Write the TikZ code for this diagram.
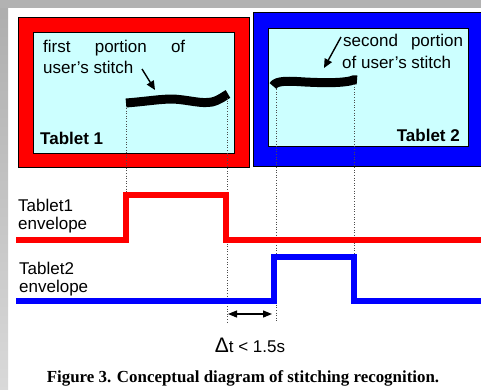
\documentclass[tikz,border=0pt]{standalone}
\usepackage{fontspec}
\setmainfont{Liberation Sans}
\newfontfamily\capfont{Liberation Serif}
\usetikzlibrary{arrows.meta}
\definecolor{pale}{HTML}{CCFFFF}
\definecolor{sred}{HTML}{FF0000}
\definecolor{sblue}{HTML}{0000FF}
\tikzset{
  lbl/.style={inner sep=0pt, anchor=west, font=\fontsize{17}{19}\selectfont},
  blbl/.style={inner sep=0pt, font=\fontsize{17}{19}\selectfont\bfseries},
  frame/.style={draw=black, line width=0.8pt},
  guide/.style={draw=black!70, dotted, line width=0.6pt},
  ink/.style={line width=9pt, line cap=butt, line join=round},
  pointer/.style={-{Triangle[length=9pt,width=8pt]}, line width=1.4pt},
  redsig/.style={draw=sred, line width=6pt, line join=miter},
  bluesig/.style={draw=sblue, line width=6pt, line join=miter},
  dimarrow/.style={{Triangle[length=9pt,width=7pt]}-{Triangle[length=9pt,width=7pt]}, line width=1.2pt}
}
\begin{document}
\begin{tikzpicture}[x=1pt,y=-1pt]
\useasboundingbox (0,0) rectangle (481,389);
\fill[white] (0,0) rectangle (481,389);
% gray margins
\shade[top color=black!32, bottom color=black!15] (0,0) rectangle (8,389);
\fill[black!30] (0,0) rectangle (481,8);
% tablet 1
\fill[sred, frame] (18,17) rectangle (249,167);
\fill[pale, frame] (33,32) rectangle (234,153);
% tablet 2
\fill[sblue, frame] (253,12) rectangle (482,166);
\fill[pale, frame] (268,28) rectangle (468,146);
% texts in tablets
\node[lbl, text width=142pt] (t1a) at (43,48) {first\hfill portion\hfill of};
\node[lbl] (t1b) at (43,67) {user's stitch};
\node[blbl, anchor=west] (tab1) at (40,138) {Tablet 1};
\node[lbl] (t2a) at (343,42) {second\hspace{13pt}portion};
\node[lbl] (t2b) at (342,62) {of user's stitch};
\node[blbl, anchor=east] (tab2) at (460,135) {Tablet 2};
% stitches
\coordinate (s1l) at (126,103);
\coordinate (s1r) at (228,94);
\draw[ink] (s1l) .. controls (150,101) and (160,99) .. (173,99)
  .. controls (190,100) and (200,104) .. (212,102) .. controls (220,100) and (224,96) .. (s1r);
\coordinate (s2l) at (273,86);
\coordinate (s2r) at (357,80);
\draw[ink] (s2l) .. controls (276,80) and (290,81) .. (305,82)
  .. controls (325,83) and (340,83) .. (350,81) .. controls (353,80) and (355,79) .. (s2r);
% pointer arrows
\coordinate (a1s) at (142,69);
\coordinate (a1e) at (155,90);
\draw[pointer] (a1s) -- (a1e);
\coordinate (a2s) at (341,37);
\coordinate (a2e) at (324,68);
\draw[pointer] (a2s) -- (a2e);
% envelope labels
\node[lbl] (e1a) at (18,205) {Tablet1};
\node[lbl] (e1b) at (18,225) {envelope};
\node[lbl] (e2a) at (19,268) {Tablet2};
\node[lbl] (e2b) at (19,288) {envelope};
% signal corners
\coordinate (r0) at (16,240);
\coordinate (r1) at (126,240);
\coordinate (r2) at (126,195);
\coordinate (r3) at (226,195);
\coordinate (r4) at (226,240);
\coordinate (r5) at (481,240);
\coordinate (b0) at (16,300.5);
\coordinate (b1) at (274,300.5);
\coordinate (b2) at (274,257);
\coordinate (b3) at (354,257);
\coordinate (b4) at (354,300.5);
\coordinate (b5) at (481,300.5);
% guides
\coordinate (g1b) at (126,108);
\coordinate (g2t) at (227,98);
\coordinate (g2b) at (227,322);
\coordinate (g3t) at (276,89);
\coordinate (g3b) at (276,322);
\coordinate (g4t) at (354,84);
\draw[guide] (g1b) -- (r2);
\draw[guide] (g2t) -- (g2b);
\draw[guide] (g3t) -- (g3b);
\draw[guide] (g4t) -- (b3);
% signals
\draw[redsig] (r0) -- (r1) -- (r2) -- (r3) -- (r4) -- (r5);
\draw[bluesig] (b0) -- (b1) -- (b2) -- (b3) -- (b4) -- (b5);
% delta t
\coordinate (d1) at (228,314);
\coordinate (d2) at (272,314);
\draw[dimarrow] (d1) -- (d2);
\node[inner sep=0pt, font=\fontsize{17}{19}\selectfont] (dt) at (250,345) {{\fontsize{21}{21}\selectfont Δ}t < 1.5s};
% caption
\node[inner sep=0pt, font=\capfont\bfseries\fontsize{16.9}{18}\selectfont] (cap) at (243,378) {Figure 3. Conceptual diagram of stitching recognition.};
\end{tikzpicture}
\end{document}
